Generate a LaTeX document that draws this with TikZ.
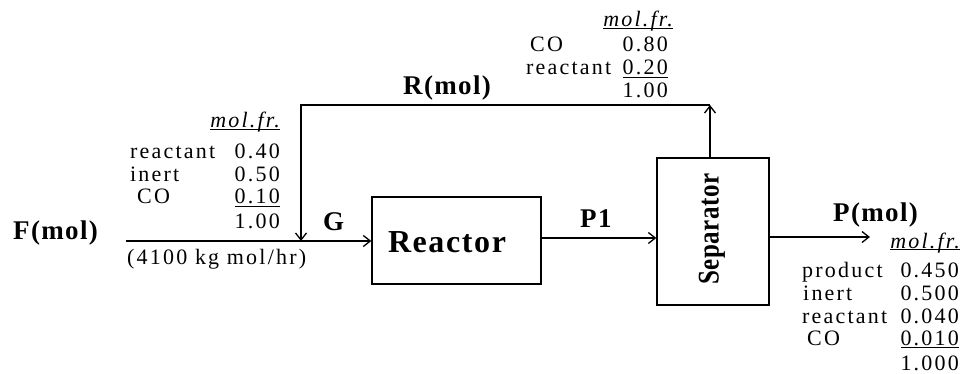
\documentclass[tikz,border=0pt]{standalone}
\usepackage{fontspec}
\usepackage{graphicx}
\setmainfont{Liberation Serif}
\newfontfamily\tabf[LetterSpace=10]{Liberation Serif}
\newfontfamily\lblf[LetterSpace=5]{Liberation Serif}
\newfontfamily\sepf[LetterSpace=2]{Liberation Serif}
\usetikzlibrary{arrows.meta}
\newcommand{\molfr}{\itshape\underline{\smash{mol.fr.}}}
\begin{document}
\begin{tikzpicture}[x=1pt,y=-1pt,
  line/.style={line width=1.3pt},
  flow/.style={line, -{Straight Barb[length=7pt,width=11pt,line width=1.3pt]}},
  unit/.style={draw, line width=1.3pt, inner sep=0pt},
  tabtxt/.style={font=\tabf\fontsize{22}{24}\selectfont, inner sep=0pt},
  lbl/.style={font=\lblf\bfseries\fontsize{27}{29}\selectfont, inner sep=0pt},
  seplbl/.style={font=\sepf\bfseries\fontsize{25}{27}\selectfont, inner sep=0pt}]
\useasboundingbox (0,0) rectangle (961,374);
\fill[white] (0,0) rectangle (961,374);

% units
\node[unit, minimum width=169pt, minimum height=87pt] (reactor) at (456.5,240.5) {};
\node[lbl, font=\lblf\bfseries\fontsize{32}{34}\selectfont, anchor=base] (reactortxt) at (447,252) {Reactor};
\node[unit, minimum width=112pt, minimum height=147pt] (sep) at (713,231.5) {};
\node[seplbl, rotate=90] (septxt) at (712,229) {\scalebox{1}[1.2]{Separator}};

% coordinates
\coordinate (fstart) at (126,241);
\coordinate (junction) at (301,241);
\coordinate (lc) at (301,105);
\coordinate (rc) at (710,105);
\coordinate (p1s) at (541,238);
\coordinate (pend) at (870,237);

% connectors
\draw[flow] (fstart) -- (fstart -| reactor.west);
\draw[flow] (p1s) -- (p1s -| sep.west);
\draw[flow] (pend -| sep.east) -- (pend);
\draw[flow] (sep.north -| rc) -- (rc);
\draw[flow] (rc) -- (lc) -- (junction);

% stream labels
\node[lbl, anchor=base west] (flbl) at (13,240) {F(mol)};
\node[lbl, anchor=base west] (glbl) at (323,231) {G};
\node[lbl, anchor=base west] (rlbl) at (403,95) {R(mol)};
\node[lbl, anchor=base west] (p1lbl) at (580,227) {P1};
\node[lbl, anchor=base west] (plbl) at (833,222) {P(mol)};
\node[tabtxt, anchor=base west] (frate) at (127,265) {(4100 kg mol/hr)};

% feed table
\node[tabtxt, anchor=base east] (fmf) at (280,128) {\molfr};
\node[tabtxt, anchor=base west] (fr1) at (130,159) {reactant};
\node[tabtxt, anchor=base east] (fv1) at (280,159) {0.40};
\node[tabtxt, anchor=base west] (fr2) at (130,182) {inert};
\node[tabtxt, anchor=base east] (fv2) at (280,182) {0.50};
\node[tabtxt, anchor=base west] (fr3) at (137,204) {CO};
\node[tabtxt, anchor=base east] (fv3) at (280,204) {\underline{0.10}};
\node[tabtxt, anchor=base east] (fv4) at (280,229) {1.00};

% recycle table
\node[tabtxt, anchor=base east] (rmf) at (673,27) {\molfr};
\node[tabtxt, anchor=base west] (rr1) at (530,52) {CO};
\node[tabtxt, anchor=base east] (rv1) at (668,52) {0.80};
\node[tabtxt, anchor=base west] (rr2) at (526,75) {reactant};
\node[tabtxt, anchor=base east] (rv2) at (668,75) {\underline{0.20}};
\node[tabtxt, anchor=base east] (rv3) at (668,98) {1.00};

% product table
\node[tabtxt, anchor=base east] (pmf) at (960,248) {\molfr};
\node[tabtxt, anchor=base west] (pr1) at (802,277) {product};
\node[tabtxt, anchor=base east] (pv1) at (959,277) {0.450};
\node[tabtxt, anchor=base west] (pr2) at (803,300) {inert};
\node[tabtxt, anchor=base east] (pv2) at (959,300) {0.500};
\node[tabtxt, anchor=base west] (pr3) at (802,323) {reactant};
\node[tabtxt, anchor=base east] (pv3) at (959,323) {0.040};
\node[tabtxt, anchor=base west] (pr4) at (807,345) {CO};
\node[tabtxt, anchor=base east] (pv4) at (959,345) {\underline{0.010}};
\node[tabtxt, anchor=base east] (pv5) at (959,370) {1.000};
\end{tikzpicture}
\end{document}
